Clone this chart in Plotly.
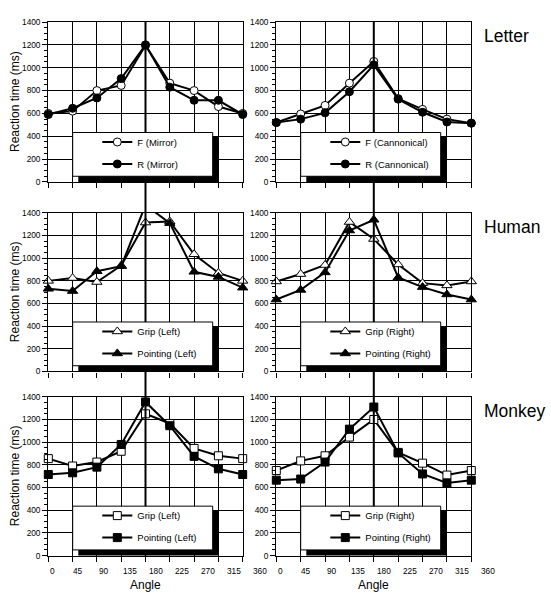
import plotly.graph_objects as go

# ---------------- data ----------------
angles = [0, 45, 90, 135, 180, 225, 270, 315, 360]
angle_tick_labels = ["0", "45", "90", "135", "180", "225", "270", "315", "360"]
row_labels = ["Letter", "Human", "Monkey"]

letter_f_mirror = [600, 620, 800, 845, 1195, 865, 800, 660, 600]
letter_r_mirror = [590, 645, 735, 905, 1200, 830, 715, 715, 590]
letter_f_cann = [520, 595, 670, 865, 1055, 730, 635, 550, 515]
letter_r_cann = [520, 550, 605, 790, 1025, 725, 610, 525, 515]

human_grip_left = [800, 825, 790, 935, 1315, 1325, 1035, 870, 800]
human_point_left = [730, 710, 885, 930, 1470, 1310, 880, 835, 740]
human_grip_right = [795, 860, 940, 1320, 1170, 945, 780, 760, 795]
human_point_right = [635, 720, 875, 1245, 1340, 830, 745, 680, 635]

monkey_grip_left = [855, 790, 825, 920, 1250, 1165, 945, 880, 855]
monkey_point_left = [715, 730, 780, 980, 1355, 1145, 875, 765, 715]
monkey_grip_right = [750, 835, 880, 1045, 1200, 910, 815, 710, 750]
monkey_point_right = [665, 675, 825, 1115, 1310, 905, 720, 640, 665]

panels = [
    # (row, col, [(name, values, symbol, filled), ...])
    (0, 0, [("F (Mirror)", letter_f_mirror, "circle", False),
            ("R (Mirror)", letter_r_mirror, "circle", True)]),
    (0, 1, [("F (Cannonical)", letter_f_cann, "circle", False),
            ("R (Cannonical)", letter_r_cann, "circle", True)]),
    (1, 0, [("Grip (Left)", human_grip_left, "triangle-up", False),
            ("Pointing (Left)", human_point_left, "triangle-up", True)]),
    (1, 1, [("Grip (Right)", human_grip_right, "triangle-up", False),
            ("Pointing (Right)", human_point_right, "triangle-up", True)]),
    (2, 0, [("Grip (Left)", monkey_grip_left, "square", False),
            ("Pointing (Left)", monkey_point_left, "square", True)]),
    (2, 1, [("Grip (Right)", monkey_grip_right, "square", False),
            ("Pointing (Right)", monkey_point_right, "square", True)]),
]

# ---------------- layout geometry (pixels) ----------------
W, H = 551, 596
col_px = [(48.3, 242.7), (276.3, 471.3)]
row_px = [(17.3, 180.0), (211.5, 372.7), (398.5, 560.0)]
FONT = "Liberation Sans, Arial, sans-serif"

marker_size = {"circle": 8, "triangle-up": 9, "square": 8}

fig = go.Figure()
layout = dict(
    width=W, height=H, autosize=False,
    margin=dict(l=0, r=0, t=0, b=0),
    paper_bgcolor="white", plot_bgcolor="white",
    font=dict(family=FONT, size=8, color="black"),
    showlegend=True,
)
shapes = []
annotations = []

def px_x(p):
    return p / W

def px_y(p):
    return 1 - p / H

for k, (r, c, series) in enumerate(panels):
    xid = "x" if k == 0 else f"x{k+1}"
    yid = "y" if k == 0 else f"y{k+1}"
    xname = "xaxis" if k == 0 else f"xaxis{k+1}"
    yname = "yaxis" if k == 0 else f"yaxis{k+1}"
    lname = "legend" if k == 0 else f"legend{k+1}"
    x0p, x1p = col_px[c]
    y0p, y1p = row_px[r]
    pw = x1p - x0p
    ph = y1p - y0p

    layout[xname] = dict(
        domain=[px_x(x0p), px_x(x1p)], anchor=yid, range=[0, 360],
        tick0=0, dtick=45, ticks="outside", ticklen=5, tickwidth=1,
        tickcolor="black", showticklabels=False,
        showgrid=True, gridcolor="black", gridwidth=1,
        showline=True, linecolor="black", linewidth=1.3, mirror=True,
        zeroline=False, fixedrange=True,
    )
    layout[yname] = dict(
        domain=[px_y(y1p), px_y(y0p)], anchor=xid, range=[0, 1400],
        tick0=0, dtick=200, ticks="outside", ticklen=5, tickwidth=1,
        tickcolor="black", tickfont=dict(size=8.3, family=FONT),
        minor=dict(dtick=50, ticks="outside", ticklen=3, tickcolor="black",
                   showgrid=False),
        showgrid=True, gridcolor="black", gridwidth=1,
        showline=True, linecolor="black", linewidth=1.3, mirror=True,
        zeroline=False, fixedrange=True,
    )

    for gi, (name, vals, sym, filled) in enumerate(series):
        fig.add_trace(go.Scatter(
            x=angles, y=vals, mode="lines+markers", name=name,
            xaxis=xid, yaxis=yid, legend=lname, legendgroup=f"{k}-{gi}",
            line=dict(color="black", width=2),
            marker=dict(symbol=sym, size=marker_size[sym],
                        color="black" if filled else "white",
                        line=dict(color="black", width=1)),
            cliponaxis=False,
        ))

    layout[lname] = dict(
        x=px_x(x0p + 49), xanchor="left",
        y=px_y(y1p - 29.5), yanchor="middle",
        bgcolor="rgba(0,0,0,0)", borderwidth=0,
        font=dict(size=9.5, family=FONT, color="black"),
        traceorder="grouped", tracegroupgap=3,
    )

    # legend frame: shadow + white box
    shapes.append(dict(
        type="rect", xref=f"{xid} domain", yref=f"{yid} domain",
        x0=(24.4 + 5.6) / pw, x1=(164.4 + 5.6) / pw,
        y0=0, y1=(50.3 - 4.6) / ph,
        fillcolor="black", line=dict(width=0), layer="above",
    ))
    shapes.append(dict(
        type="rect", xref=f"{xid} domain", yref=f"{yid} domain",
        x0=24.4 / pw, x1=164.4 / pw, y0=5.8 / ph, y1=50.3 / ph,
        fillcolor="white", line=dict(color="black", width=1), layer="above",
    ))

    if c == 0:
        annotations.append(dict(
            text="Reaction time (ms)", xref="paper", yref=f"{yid} domain",
            x=px_x(15), y=0.5, textangle=-90, showarrow=False,
            xanchor="center", yanchor="middle",
            font=dict(size=12, family=FONT, color="black"),
        ))
    else:
        annotations.append(dict(
            text=row_labels[r], xref="paper", yref="paper",
            x=px_x(482), y=px_y(y0p + 14.5), showarrow=False,
            xanchor="left", yanchor="middle",
            font=dict(size=17.5, family=FONT, color="black"),
        ))

    if r == 2:
        for i, lab in enumerate(angle_tick_labels):
            annotations.append(dict(
                text=lab, xref=f"{xid} domain", yref=f"{yid} domain",
                x=(4 + 26 * i) / pw, y=0, yshift=-15, showarrow=False,
                xanchor="center", yanchor="middle",
                font=dict(size=8.3, family=FONT, color="black"),
            ))
        annotations.append(dict(
            text="Angle", xref=f"{xid} domain", yref=f"{yid} domain",
            x=0.5, y=0, yshift=-29, showarrow=False,
            xanchor="center", yanchor="middle",
            font=dict(size=12, family=FONT, color="black"),
        ))

# thick vertical reference line at 180 deg through each column
vlines = []
for c, xid in enumerate(["x", "x2"]):
    vlines.append(dict(
        type="line", xref=xid, yref="paper", x0=180, x1=180,
        y0=px_y(row_px[2][1]), y1=px_y(row_px[0][0]),
        line=dict(color="black", width=2), layer="above",
    ))

layout["shapes"] = vlines + shapes
layout["annotations"] = annotations
fig.update_layout(**layout)

fig.write_html(
    "out.html",
    config={"displayModeBar": False},
    post_script="document.body.style.margin='0px';document.body.style.overflow='hidden';",
)
